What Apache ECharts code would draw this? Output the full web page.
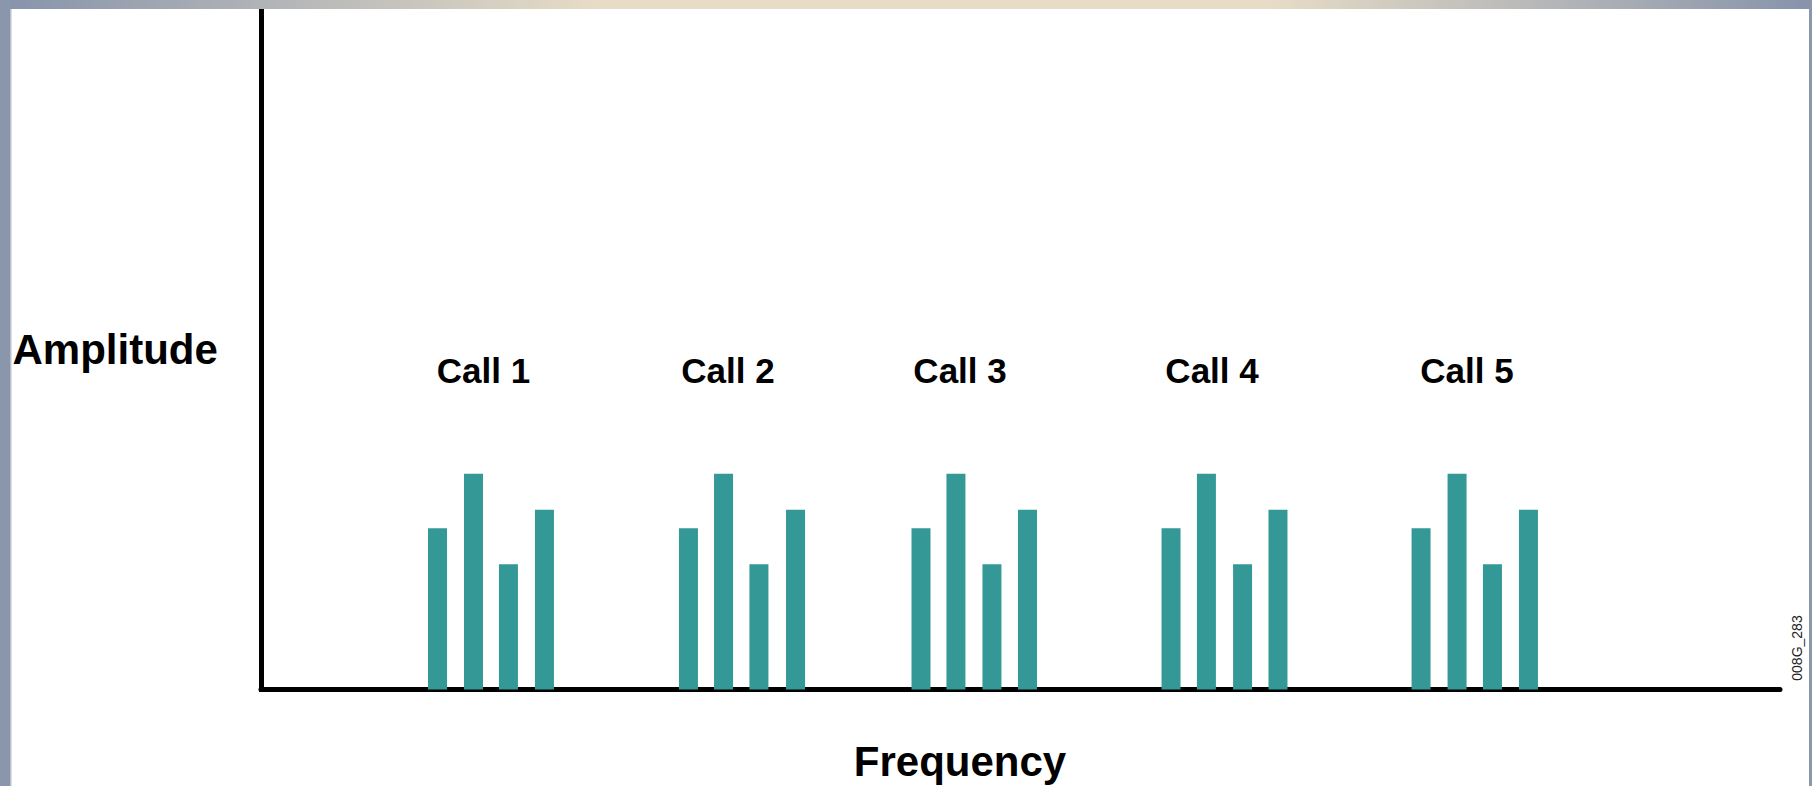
<!DOCTYPE html>
<html>
<head>
<meta charset="utf-8">
<script src="https://cdn.jsdelivr.net/npm/echarts@6/dist/echarts.min.js"></script>
<style>
html,body{margin:0;padding:0;background:#fff;}
#chart{width:1812px;height:786px;}
</style>
</head>
<body>
<div id="chart"></div>
<script>
// ---- data ----
const callNames = ['Call 1', 'Call 2', 'Call 3', 'Call 4', 'Call 5'];
const call1Freqs = [11.62, 13.99, 16.29, 18.66];
const call2Freqs = [28.14, 30.45, 32.78, 35.19];
const call3Freqs = [43.45, 45.75, 48.12, 50.46];
const call4Freqs = [59.91, 62.24, 64.62, 66.95];
const call5Freqs = [76.37, 78.74, 81.07, 83.44];
const toneAmplitudes = [23.7, 31.7, 18.4, 26.4];
const labelFreqs = [14.65, 30.74, 46.02, 62.61, 79.39];
const labelLevel = 46.95;
const xAxisName = 'Frequency';
const yAxisName = 'Amplitude';
const figureId = '008G_283';

const callFreqs = [call1Freqs, call2Freqs, call3Freqs, call4Freqs, call5Freqs];
const barData = [];
callFreqs.forEach(function (freqs) {
  freqs.forEach(function (f, i) { barData.push([f, toneAmplitudes[i]]); });
});
const labelData = callNames.map(function (n, i) { return { name: n, value: [labelFreqs[i], labelLevel] }; });

const FONT = "'Liberation Sans', Arial, Helvetica, sans-serif";
const chart = echarts.init(document.getElementById('chart'), null, { renderer: 'svg' });
chart.setOption({
  animation: false,
  backgroundColor: '#ffffff',
  grid: { left: 261, right: 32, top: 9, bottom: 96.5 },
  xAxis: {
    type: 'value', min: 0, max: 100,
    axisLine: { show: true, lineStyle: { color: '#000', width: 5 } },
    axisTick: { show: false }, axisLabel: { show: false }, splitLine: { show: false }
  },
  yAxis: {
    type: 'value', min: 0, max: 100,
    name: yAxisName, nameLocation: 'middle', nameRotate: 0, nameGap: 248.5,
    nameTextStyle: { fontFamily: FONT, fontWeight: 'bold', fontSize: 42, color: '#000', align: 'left', verticalAlign: 'middle' },
    axisLine: { show: true, lineStyle: { color: '#000', width: 5, cap: 'square' } },
    axisTick: { show: false }, axisLabel: { show: false }, splitLine: { show: false }
  },
  series: [
    {
      type: 'bar', data: barData, barWidth: 19,
      itemStyle: { color: '#349996' }, z: 1
    },
    {
      type: 'scatter', data: labelData, symbolSize: 0,
      itemStyle: { opacity: 1 },
      label: {
        show: true, position: 'inside', formatter: '{b}', opacity: 1,
        fontFamily: FONT, fontWeight: 'bold', fontSize: 35, color: '#000',
        align: 'center', verticalAlign: 'middle'
      }
    }
  ],
  graphic: [
    { type: 'rect', z: 100, shape: { x: 0, y: 0, width: 1812, height: 9 },
      style: { fill: new echarts.graphic.LinearGradient(0, 0, 1, 0, [
        { offset: 0, color: '#8693ab' }, { offset: 0.33, color: '#e7dcc6' },
        { offset: 0.70, color: '#e7dcc6' }, { offset: 1, color: '#8693ab' }]) } },
    { type: 'rect', z: 100, shape: { x: 0, y: 0, width: 10, height: 786 }, style: { fill: '#8a96ab' } },
    { type: 'rect', z: 100, shape: { x: 10, y: 9, width: 1.5, height: 777 }, style: { fill: '#b9c0cc' } },
    { type: 'rect', z: 100, shape: { x: 1809, y: 0, width: 3, height: 786 }, style: { fill: '#8a96ab' } },
    { type: 'text', z: 100, x: 960, y: 761,
      style: { text: xAxisName, fontFamily: FONT, fontWeight: 'bold', fontSize: 42, fill: '#000', align: 'center', verticalAlign: 'middle' } },
    { type: 'text', z: 100, x: 1797, y: 648, rotation: Math.PI / 2,
      style: { text: figureId, fontFamily: FONT, fontSize: 14, fill: '#222', align: 'center', verticalAlign: 'middle' } }
  ]
});
</script>
</body>
</html>
